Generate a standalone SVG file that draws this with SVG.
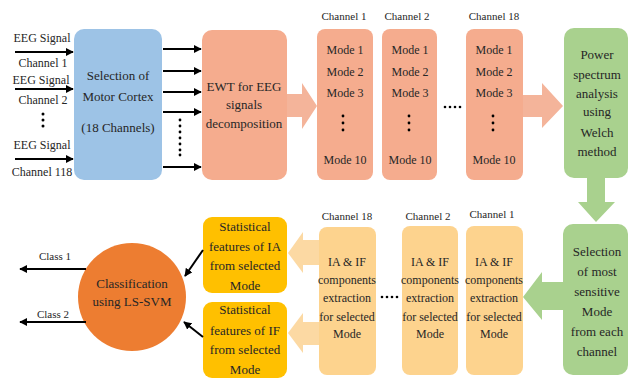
<svg xmlns="http://www.w3.org/2000/svg" width="635" height="381" viewBox="0 0 635 381">
<style>
text{font-family:'Liberation Serif',serif;fill:#262626;text-anchor:middle}
.t13{font-size:13px}
.t12{font-size:12px}
.t11{font-size:11px}
.blue{fill:#9dc3e6}
.sal{fill:#f5ac8e}
.grn{fill:#a9d18e}
.ylw{fill:#fdd38e}
.gold{fill:#ffc000}
.salA{fill:#f4b49a}
.ylwA{fill:#fcd9a3}
.ln{stroke:#000;stroke-width:2;fill:none;marker-end:url(#ah)}
.dot{fill:#000}
</style>
<defs>
<marker id="ah" viewBox="0 0 10 10" refX="9" refY="5" markerWidth="4" markerHeight="4" orient="auto" markerUnits="strokeWidth">
<path d="M0,0 L10,5 L0,10 z" fill="#000"/>
</marker>
</defs>
<rect width="635" height="381" fill="#fff"/>

<g id="inputs">
<text class="t12" x="42" y="42">EEG Signal</text>
<text class="t12" x="43" y="67">Channel 1</text>
<text class="t12" x="41" y="84">EEG Signal</text>
<text class="t12" x="43" y="104">Channel 2</text>
<circle class="dot" cx="43" cy="114" r="1.5"/><circle class="dot" cx="43" cy="120" r="1.5"/><circle class="dot" cx="43" cy="126" r="1.5"/>
<text class="t12" x="42" y="149">EEG Signal</text>
<text class="t12" x="42" y="176">Channel 118</text>
</g>

<g id="motor-cortex">
<rect class="blue" x="74" y="29" width="88" height="151" rx="10"/>
<text class="t13" x="118" y="80">Selection of</text>
<text class="t13" x="118" y="101">Motor Cortex</text>
<text class="t13" x="118" y="132">(18 Channels)</text>
</g>

<g id="ewt">
<rect class="sal" x="202" y="30" width="85" height="150" rx="10"/>
<text class="t13" x="244" y="91">EWT for EEG</text>
<text class="t13" x="244" y="109">signals</text>
<text class="t13" x="244" y="128">decomposition</text>
</g>

<g id="ch1-modes">
<text class="t11" x="344" y="20">Channel 1</text>
<rect class="sal" x="317" y="29" width="56" height="151" rx="8"/>
<text class="t12" x="345" y="54">Mode 1</text>
<text class="t12" x="345" y="76">Mode 2</text>
<text class="t12" x="345" y="97">Mode 3</text>
<circle class="dot" cx="343" cy="116" r="1.4"/><circle class="dot" cx="343" cy="123" r="1.4"/><circle class="dot" cx="343" cy="130" r="1.4"/>
<text class="t12" x="345" y="164">Mode 10</text>
</g>

<g id="ch2-modes">
<text class="t11" x="407" y="20">Channel 2</text>
<rect class="sal" x="382" y="29" width="55" height="151" rx="8"/>
<text class="t12" x="410" y="54">Mode 1</text>
<text class="t12" x="410" y="76">Mode 2</text>
<text class="t12" x="410" y="97">Mode 3</text>
<circle class="dot" cx="409" cy="116" r="1.4"/><circle class="dot" cx="409" cy="123" r="1.4"/><circle class="dot" cx="409" cy="130" r="1.4"/>
<text class="t12" x="410" y="164">Mode 10</text>
</g>

<g id="dots-top">
<circle class="dot" cx="445" cy="107" r="1.3"/><circle class="dot" cx="450" cy="107" r="1.3"/><circle class="dot" cx="455" cy="107" r="1.3"/><circle class="dot" cx="460" cy="107" r="1.3"/>
</g>

<g id="ch18-modes">
<text class="t11" x="494" y="20">Channel 18</text>
<rect class="sal" x="466" y="29" width="57" height="151" rx="8"/>
<text class="t12" x="494" y="54">Mode 1</text>
<text class="t12" x="494" y="76">Mode 2</text>
<text class="t12" x="494" y="97">Mode 3</text>
<circle class="dot" cx="493" cy="116" r="1.4"/><circle class="dot" cx="493" cy="123" r="1.4"/><circle class="dot" cx="493" cy="130" r="1.4"/>
<text class="t12" x="494" y="164">Mode 10</text>
</g>

<g id="power-spectrum">
<rect class="grn" x="564" y="28" width="64" height="150" rx="10"/>
<text class="t13" x="597" y="59">Power</text>
<text class="t13" x="597" y="79">spectrum</text>
<text class="t13" x="597" y="98">analysis</text>
<text class="t13" x="597" y="116">using</text>
<text class="t13" x="597" y="137">Welch</text>
<text class="t13" x="597" y="156">method</text>
</g>

<g id="mode-selection">
<rect class="grn" x="563" y="224" width="65" height="151" rx="10"/>
<text class="t13" x="597" y="256">Selection</text>
<text class="t13" x="597" y="276">of most</text>
<text class="t13" x="597" y="296">sensitive</text>
<text class="t13" x="597" y="316">Mode</text>
<text class="t13" x="597" y="336">from each</text>
<text class="t13" x="597" y="356">channel</text>
</g>

<g id="ch1-iaif">
<text class="t11" x="492" y="218">Channel 1</text>
<rect class="ylw" x="466" y="226" width="57" height="149" rx="8"/>
<text class="t12" x="494" y="266">IA &amp; IF</text>
<text class="t12" x="494" y="284">components</text>
<text class="t12" x="494" y="302">extraction</text>
<text class="t12" x="494" y="321">for selected</text>
<text class="t12" x="494" y="338">Mode</text>
</g>

<g id="ch2-iaif">
<text class="t11" x="428" y="220">Channel 2</text>
<rect class="ylw" x="402" y="226" width="56" height="149" rx="8"/>
<text class="t12" x="430" y="266">IA &amp; IF</text>
<text class="t12" x="430" y="284">components</text>
<text class="t12" x="430" y="302">extraction</text>
<text class="t12" x="430" y="321">for selected</text>
<text class="t12" x="430" y="338">Mode</text>
</g>

<g id="dots-bottom">
<circle class="dot" cx="382" cy="297" r="1.3"/><circle class="dot" cx="387" cy="297" r="1.3"/><circle class="dot" cx="392" cy="297" r="1.3"/><circle class="dot" cx="397" cy="297" r="1.3"/>
</g>

<g id="ch18-iaif">
<text class="t11" x="347" y="220">Channel 18</text>
<rect class="ylw" x="319" y="227" width="57" height="148" rx="8"/>
<text class="t12" x="347" y="266">IA &amp; IF</text>
<text class="t12" x="347" y="284">components</text>
<text class="t12" x="347" y="302">extraction</text>
<text class="t12" x="347" y="321">for selected</text>
<text class="t12" x="347" y="338">Mode</text>
</g>

<g id="stat-ia">
<rect class="gold" x="203" y="217" width="84" height="76" rx="9"/>
<text class="t13" x="245" y="231">Statistical</text>
<text class="t13" x="245" y="251">features of IA</text>
<text class="t13" x="245" y="270">from selected</text>
<text class="t13" x="245" y="290">Mode</text>
</g>

<g id="stat-if">
<rect class="gold" x="203" y="302" width="84" height="76" rx="9"/>
<text class="t13" x="245" y="314">Statistical</text>
<text class="t13" x="245" y="335">features of IF</text>
<text class="t13" x="245" y="354">from selected</text>
<text class="t13" x="245" y="374">Mode</text>
</g>

<g id="classifier">
<circle cx="132" cy="297" r="54" fill="#ed7d31"/>
<text class="t13" x="132" y="288">Classification</text>
<text class="t13" x="132" y="306">using LS-SVM</text>
</g>

<g id="outputs">
<text class="t11" x="55" y="260">Class 1</text>
<text class="t11" x="53" y="318">Class 2</text>
</g>

<g id="connectors">
<line class="ln" x1="15" y1="52" x2="73" y2="52"/>
<line class="ln" x1="15" y1="89" x2="73" y2="89"/>
<line class="ln" x1="15" y1="159" x2="73" y2="159"/>
<line class="ln" x1="163" y1="49" x2="201" y2="49"/>
<line class="ln" x1="163" y1="71" x2="201" y2="71"/>
<line class="ln" x1="163" y1="92" x2="201" y2="92"/>
<line class="ln" x1="163" y1="112" x2="201" y2="112"/>
<line class="ln" x1="163" y1="167" x2="201" y2="167"/>
<g class="dot">
<circle cx="180" cy="120" r="1.4"/><circle cx="180" cy="126" r="1.4"/><circle cx="180" cy="132" r="1.4"/><circle cx="180" cy="138" r="1.4"/><circle cx="180" cy="144" r="1.4"/><circle cx="180" cy="150" r="1.4"/><circle cx="180" cy="155" r="1.4"/>
</g>
<polygon class="salA" points="287,94 302,94 302,83 317,106 302,129 302,117 287,117"/>
<polygon class="salA" points="523,95 542,95 542,83 563,106 542,128 542,117 523,117"/>
<polygon class="grn" points="587,178 605,178 605,202 615,202 596,222 578,202 587,202"/>
<polygon class="grn" points="563,282 542,282 542,272 523,297 542,320 542,310 563,310"/>
<polygon class="ylwA" points="319,240 303,240 303,232 288,253 303,273 303,265 319,265"/>
<polygon class="ylwA" points="319,322 303,322 303,313 288,333 303,353 303,345 319,345"/>
<line class="ln" x1="203" y1="250" x2="185" y2="276"/>
<line class="ln" x1="203" y1="337" x2="184" y2="322"/>
<line class="ln" x1="86" y1="269" x2="20" y2="269"/>
<line class="ln" x1="86" y1="322" x2="20" y2="322"/>
</g>
</svg>
